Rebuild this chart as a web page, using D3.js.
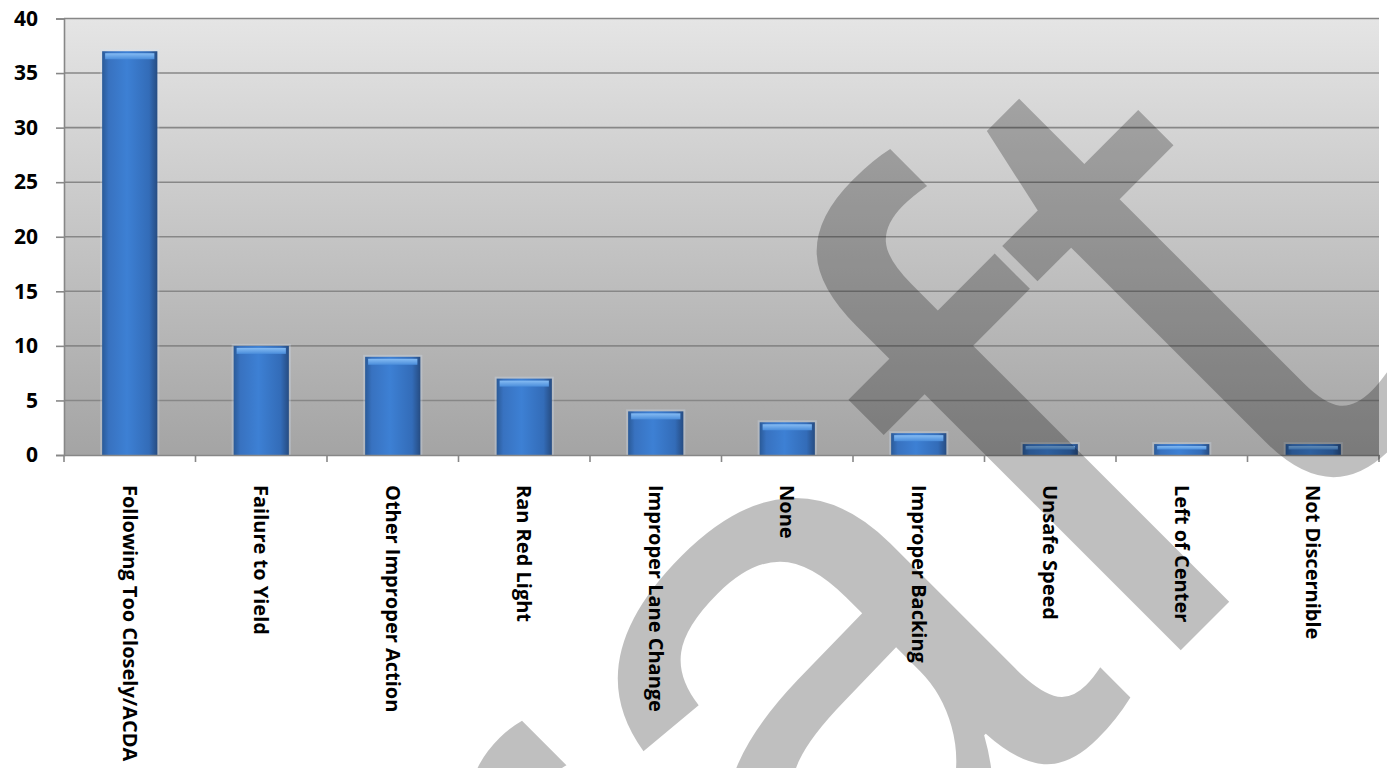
<!DOCTYPE html>
<html><head><meta charset="utf-8">
<script src="https://cdn.jsdelivr.net/npm/d3@7"></script>
<style>html,body{margin:0;padding:0;background:#fff;overflow:hidden}</style>
</head><body>
<svg id="c" width="1387" height="768"></svg>
<script>
const categories = ["Following Too Closely/ACDA","Failure to Yield","Other Improper Action","Ran Red Light","Improper Lane Change","None","Improper Backing","Unsafe Speed","Left of Center","Not Discernible"];
const values = [37,10,9,7,4,3,2,1,1,1];
const yTicks = [0,5,10,15,20,25,30,35,40];
const watermarkText = "Draft";

const svg = d3.select("#c");
const m = {left:64, right:1379, top:18.5, bottom:455};
const x = d3.scaleBand().domain(categories).range([m.left,m.right]).paddingInner(0.58).paddingOuter(0.29);
const y = d3.scaleLinear().domain([0,40]).range([m.bottom,m.top]);

const defs = svg.append("defs");
const bg = defs.append("linearGradient").attr("id","bg").attr("x1",0).attr("y1",0).attr("x2",0).attr("y2",1);
bg.append("stop").attr("offset","0%").attr("stop-color","#e5e5e5");
bg.append("stop").attr("offset","100%").attr("stop-color","#a4a4a4");
const bar = defs.append("linearGradient").attr("id","bar").attr("x1",0).attr("y1",0).attr("x2",1).attr("y2",0);
[["0%","#2a5a98"],["12%","#3872c0"],["45%","#3d80d4"],["85%","#336cb8"],["100%","#264c82"]].forEach(s=>bar.append("stop").attr("offset",s[0]).attr("stop-color",s[1]));
const cap = defs.append("linearGradient").attr("id","cap").attr("x1",0).attr("y1",0).attr("x2",0).attr("y2",1);
[["0%","#86bcf3"],["100%","#4a8ddb"]].forEach(s=>cap.append("stop").attr("offset",s[0]).attr("stop-color",s[1]));

svg.append("rect").attr("x",m.left).attr("y",m.top).attr("width",m.right-m.left).attr("height",m.bottom-m.top).attr("fill","url(#bg)");

// gridlines
svg.append("g").selectAll("line").data(yTicks.filter(d=>d>0)).join("line")
  .attr("x1",m.left).attr("x2",m.right).attr("y1",d=>y(d)).attr("y2",d=>y(d))
  .attr("stroke","#878787").attr("stroke-width",1.6);

// bars
const bars = svg.append("g").selectAll("g").data(categories).join("g");
bars.append("rect").attr("x",d=>x(d)-2).attr("width",x.bandwidth()+4)
  .attr("y",(d,i)=>y(values[i])-2).attr("height",(d,i)=>y(0)-y(values[i])+3)
  .attr("fill","#cfe0f5").attr("opacity",0.3);
bars.append("rect").attr("x",d=>x(d)).attr("width",x.bandwidth())
  .attr("y",(d,i)=>y(values[i])).attr("height",(d,i)=>y(0)-y(values[i]))
  .attr("fill","url(#bar)");
bars.append("rect").attr("x",d=>x(d)+3).attr("width",x.bandwidth()-6)
  .attr("y",(d,i)=>y(values[i])+2).attr("height",(d,i)=>Math.min(6,Math.max(2,(y(0)-y(values[i]))/2-2)))
  .attr("fill","url(#cap)");

// y axis
const ya = svg.append("g").attr("transform",`translate(${m.left},0)`)
  .call(d3.axisLeft(y).tickValues(yTicks).tickSize(8).tickPadding(18));
ya.select(".domain").attr("stroke","#878787").attr("stroke-width",1.6);
ya.selectAll(".tick line").attr("stroke","#878787").attr("stroke-width",1.6);
ya.selectAll(".tick text").attr("font-family","Open Sans").attr("font-weight","bold").attr("font-size","21px").attr("fill","#000");

// x axis
const xa = svg.append("g").attr("transform",`translate(0,${m.bottom})`).call(d3.axisBottom(x).tickSize(0).tickFormat(""));
xa.select(".domain").attr("stroke","#878787").attr("stroke-width",1.6);
const step = x.step();
svg.append("g").selectAll("line").data(d3.range(categories.length+1)).join("line")
  .attr("x1",i=>m.left+i*step).attr("x2",i=>m.left+i*step).attr("y1",m.bottom).attr("y2",m.bottom+7)
  .attr("stroke","#878787").attr("stroke-width",1.6);

svg.append("g").selectAll("text").data(categories).join("text")
  .attr("transform",d=>`translate(${x(d)+x.bandwidth()/2},485) rotate(90)`)
  .attr("dy","0.35em").attr("text-anchor","start")
  .attr("font-family","Open Sans").attr("font-weight","bold").attr("font-size","20px").attr("fill","#000")
  .text(d=>d);

// watermark
const wm = svg.append("text").attr("font-family","Liberation Sans").attr("font-weight","400").attr("font-size","780px")
  .attr("fill","#000").attr("fill-opacity",0.25).text(watermarkText);
const fx = wm.node().getStartPositionOfChar(3).x;
wm.attr("transform",`translate(1132,699) rotate(-45) translate(${-fx},0)`);
</script>
</body></html>
